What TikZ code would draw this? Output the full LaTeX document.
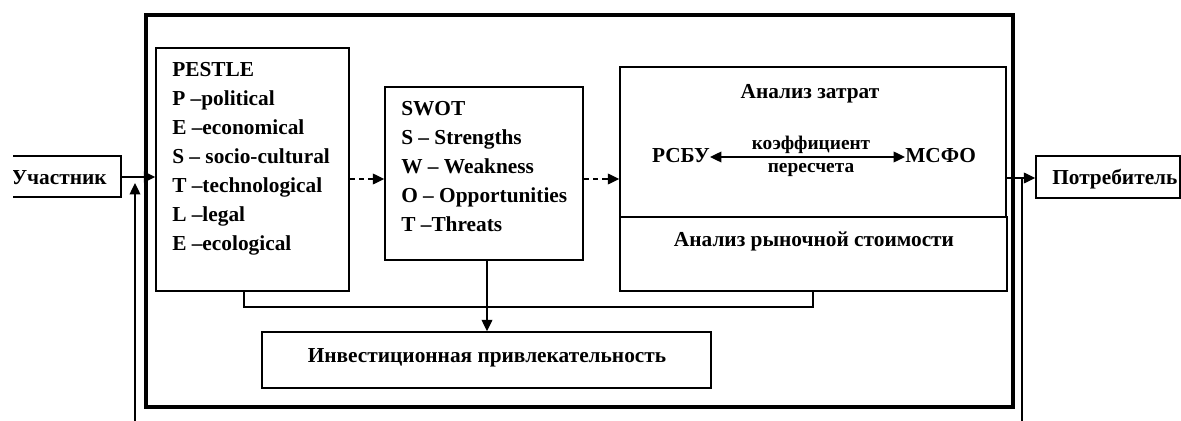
\documentclass[tikz,border=0pt]{standalone}
\usepackage{fontspec}
\setmainfont{Liberation Serif}
\usetikzlibrary{arrows.meta,fit}
\begin{document}
\begin{tikzpicture}[x=0.75pt,y=-0.75pt,
  box/.style={draw,line width=1.1pt,inner sep=0pt},
  txt/.style={inner sep=0pt,font=\fontsize{16}{19}\selectfont\bfseries},
  stxt/.style={inner sep=0pt,font=\fontsize{14.5}{17}\selectfont\bfseries},
  arr/.style={line width=1pt,-{Triangle[length=8.5pt,width=8pt]}},
  dbl/.style={line width=1pt,{Triangle[length=8.5pt,width=8pt]}-{Triangle[length=8.5pt,width=8pt]}},
  ln/.style={line width=1pt},
  dsh/.style={arr,dash pattern=on 4pt off 3pt}]
\useasboundingbox (0,0) rectangle (1181,421);
\begin{scope}
\clip (13,0) rectangle (1181,421);
% frame
\node[draw,line width=2.4pt,inner sep=0pt,fit={(146,15)(1013,407)}] (frame) {};
% side boxes
\node[box,fit={(0,156)(121,197)}] (uch) {};
\node[txt,anchor=base east] (uchT) at (107,184) {Участник};
\node[box,fit={(1036,156)(1180,198)}] (cons) {};
\node[txt,anchor=base west] (consT) at (1052,184) {Потребитель};
% PESTLE
\node[box,fit={(156,48)(349,291)}] (pestle) {};
\foreach \t [count=\i from 0] in {PESTLE,P –political,E –economical,S – socio-cultural,T –technological,L –legal,E –ecological}
  \node[txt,anchor=base west] (pl\i) at (172,76+29*\i) {\t};
% SWOT
\node[box,fit={(385,87)(583,260)}] (swot) {};
\foreach \t [count=\i from 0] in {SWOT,S – Strengths,W – Weakness,O – Opportunities,T –Threats}
  \node[txt,anchor=base west] (sl\i) at (401,115+29*\i) {\t};
% Analysis boxes
\node[box,fit={(620,67)(1006,217)}] (cost) {};
\node[box,fit={(620,217)(1007,291)}] (market) {};
\node[txt,anchor=base] (costT) at (810,98) {Анализ затрат};
\node[txt,anchor=base east] (rsbu) at (710,162) {РСБУ};
\node[txt,anchor=base west] (msfo) at (905,162) {МСФО};
\node[stxt,anchor=base] (k1) at (811,149) {коэффициент};
\node[stxt,anchor=base] (k2) at (811,172) {пересчета};
\node[txt,anchor=base] (marketT) at (814,246) {Анализ рыночной стоимости};
% Investment
\node[box,fit={(262,332)(711,388)}] (inv) {};
\node[txt,anchor=base] (invT) at (487,362) {Инвестиционная привлекательность};
% coordinates
\coordinate (inL) at (135,421);
\coordinate (inLtop) at (135,183);
\coordinate (outR) at (1022,421);
\coordinate (outRtop) at (1022,177);
\coordinate (bl) at (244,307);
\coordinate (br) at (813,307);
% connectors
\draw[arr] (uch.east |- 0,177) -- (pestle.west |- 0,177);
\draw[arr] (inL) -- (inLtop);
\draw[dsh] (pestle.east |- 0,179) -- (swot.west |- 0,179);
\draw[dsh] (swot.east |- 0,179) -- (cost.west |- 0,179);
\draw[arr] (cost.east |- 0,178) -- (cons.west |- 0,178);
\draw[ln] (outRtop) -- (outR);
\draw[dbl] (rsbu.east |- 0,157) -- (msfo.west |- 0,157);
\draw[ln] (pestle.south -| bl) -- (bl) -- (br) -- (market.south -| br);
\draw[arr] (swot.south -| 487,0) -- (inv.north -| 487,0);
\end{scope}
\end{tikzpicture}
\end{document}
